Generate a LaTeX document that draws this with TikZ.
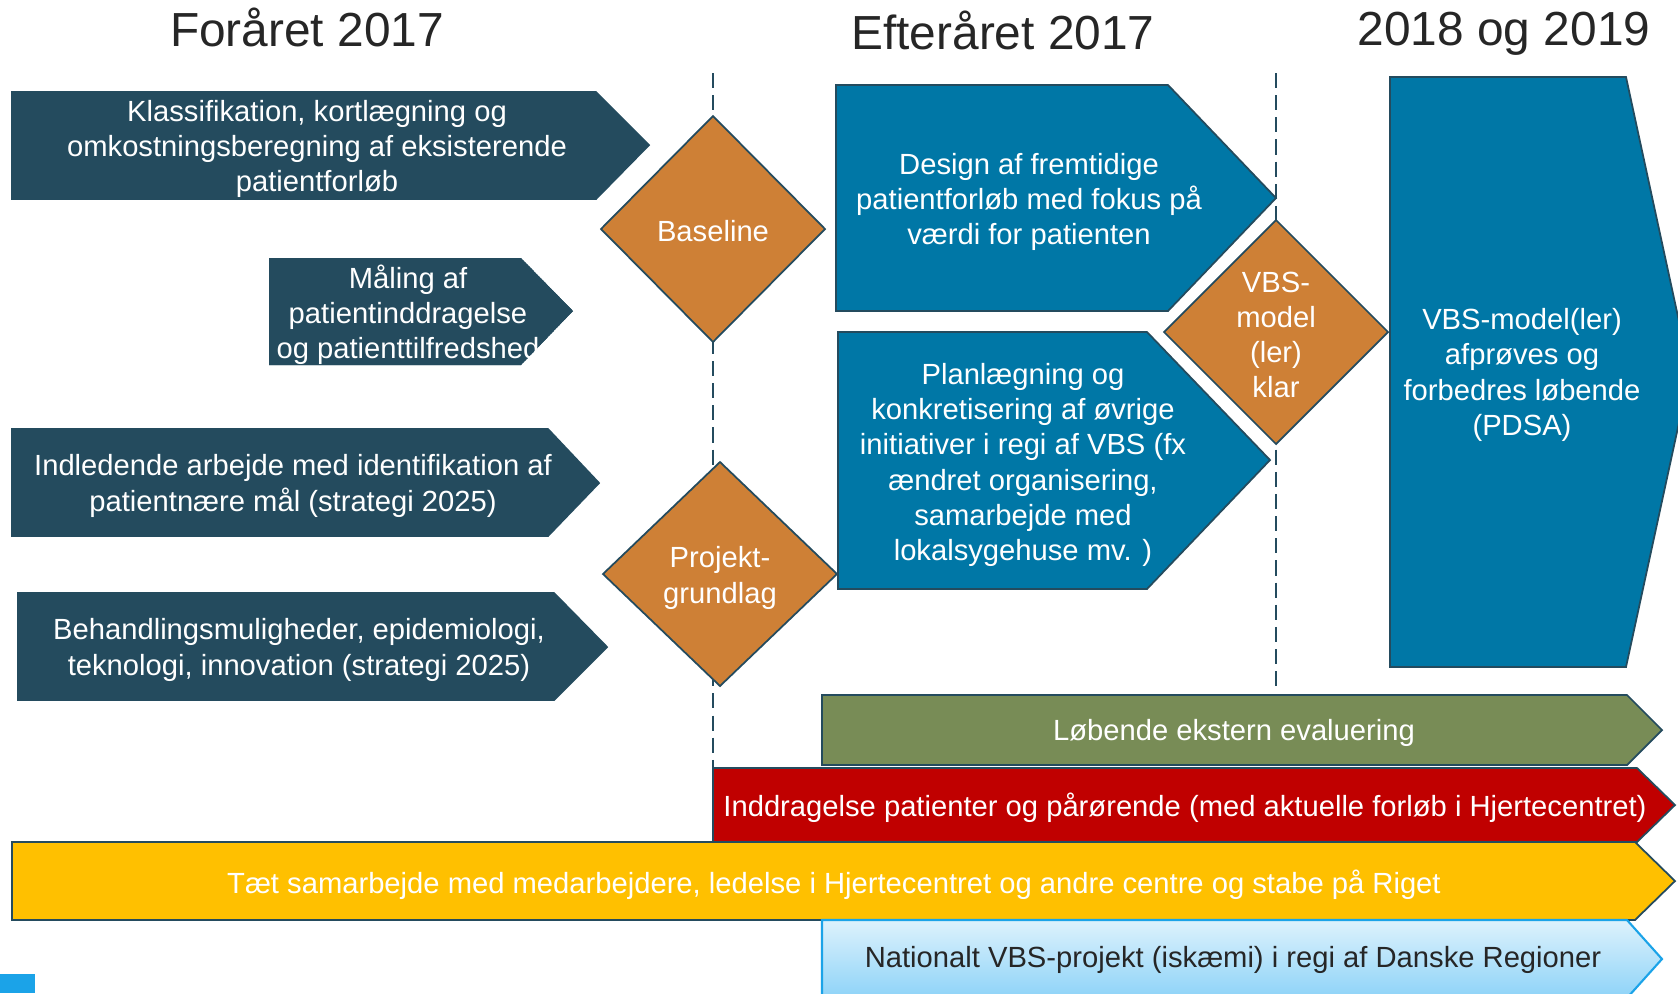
\documentclass[tikz,border=0pt]{standalone}
\usepackage{fontspec}
\setmainfont{Liberation Sans}
\definecolor{slate}{RGB}{36,75,94}
\definecolor{vbsblue}{RGB}{0,119,166}
\definecolor{milestone}{RGB}{206,128,54}
\definecolor{evalgreen}{RGB}{120,140,86}
\definecolor{patred}{RGB}{192,0,0}
\definecolor{teamyellow}{RGB}{255,192,0}
\definecolor{natlight}{RGB}{221,242,252}
\definecolor{natdark}{RGB}{142,211,248}
\definecolor{natedge}{RGB}{27,163,232}

\begin{document}
\begin{tikzpicture}[x=0.01cm,y=-0.01cm,
  box/.style={draw=slate,line width=0.5pt},
  txt/.style={text=white,align=center,inner sep=0pt,font=\fontsize{8.3}{10}\selectfont},
  heading/.style={text=black!85,inner sep=0pt,font=\fontsize{13.6}{16}\selectfont}]
\useasboundingbox (0,0) rectangle (1678,993);
\clip (0,0) rectangle (1678,993);

% headings
\node[heading] (spring) at (307,27) {Foråret 2017};
\node[heading] (autumn) at (1003,30) {Efteråret 2017};
\node[heading] (later) at (1504,34) {2018 og 2019};

% dashed dividers
\foreach \x/\yb in {713/768, 1276/690}
  \draw[slate, line width=0.7pt, dash pattern=on 4.3pt off 2pt] (\x,73) -- (\x,\yb);

% spring 2017
\filldraw[box, fill=slate] (12,92) -- (596,92) -- (649,145) -- (596,199) -- (12,199) -- cycle;
\node[txt] (klass) at (317,149) {Klassifikation, kortlægning og\\omkostningsberegning af eksisterende\\patientforløb};

\begin{scope}
\clip (269,258) -- (521,258) -- (573,311) -- (521,365) -- (269,365) -- cycle;
\filldraw[box, fill=slate] (269,258) -- (521,258) -- (573,311) -- (521,365) -- (269,365) -- cycle;
\node[txt] (maaling) at (408,315) {Måling af\\patientinddragelse\\og patienttilfredshed};
\end{scope}

\filldraw[box, fill=slate] (12,429) -- (548,429) -- (599,483) -- (548,536) -- (12,536) -- cycle;
\node[txt] (indled) at (293,486) {Indledende arbejde med identifikation af\\patientnære mål (strategi 2025)};

\filldraw[box, fill=slate] (18,593) -- (554,593) -- (607,647) -- (554,700) -- (18,700) -- cycle;
\node[txt] (behandl) at (299,650) {Behandlingsmuligheder, epidemiologi,\\teknologi, innovation (strategi 2025)};

% milestones
\filldraw[box, fill=milestone] (713,116) -- (825,229) -- (713,342) -- (601,229) -- cycle;
\node[txt] (baseline) at (713,231) {Baseline};

\filldraw[box, fill=milestone] (720,462) -- (837,574) -- (720,686) -- (603,574) -- cycle;
\node[txt] (projekt) at (720,578) {Projekt-\\grundlag};

\filldraw[box, fill=milestone] (1276,220) -- (1388,332) -- (1276,444) -- (1164,332) -- cycle;
\node[txt] (vbsklar) at (1276,335) {VBS-\\model\\(ler)\\klar};

% autumn 2017
\filldraw[box, fill=vbsblue] (836,85) -- (1168,85) -- (1276,198) -- (1168,311) -- (836,311) -- cycle;
\node[txt] (design) at (1029,202) {Design af fremtidige\\patientforløb med fokus på\\værdi for patienten};

\filldraw[box, fill=vbsblue] (838,332) -- (1147,332) -- (1270,460) -- (1147,589) -- (838,589) -- cycle;
\node[txt] (planl) at (1023,465) {Planlægning og\\konkretisering af øvrige\\initiativer i regi af VBS (fx\\ændret organisering,\\samarbejde med\\lokalsygehuse mv. )};

% 2018 og 2019
\filldraw[box, fill=vbsblue] (1390,77) -- (1626,77) -- (1690,372) -- (1626,667) -- (1390,667) -- cycle;
\node[txt] (afproev) at (1522,375) {VBS-model(ler)\\afprøves og\\forbedres løbende\\(PDSA)};

% running bars
\filldraw[box, fill=evalgreen] (822,695) -- (1627,695) -- (1662,730) -- (1627,765) -- (822,765) -- cycle;
\node[txt] (evaluering) at (1234,733) {Løbende ekstern evaluering};

\filldraw[box, fill=patred] (713,768) -- (1637,768) -- (1675,805) -- (1637,842) -- (713,842) -- cycle;
\node[txt] (inddrag) at (1185,808) {Inddragelse patienter og pårørende (med aktuelle forløb i Hjertecentret)};

\filldraw[box, fill=teamyellow] (12,842) -- (1635,842) -- (1675,881) -- (1635,920) -- (12,920) -- cycle;
\node[txt] (samarbejde) at (834,885) {Tæt samarbejde med medarbejdere, ledelse i Hjertecentret og andre centre og stabe på Riget};

\shade[top color=natlight, bottom color=natdark] (822,920) -- (1627,920) -- (1662,959) -- (1627,998) -- (822,998) -- cycle;
\draw[natedge, line width=0.6pt] (822,920) -- (1627,920) -- (1662,959) -- (1627,998) -- (822,998) -- cycle;
\node[txt, text=black!85] (national) at (1233,960) {Nationalt VBS-projekt (iskæmi) i regi af Danske Regioner};

\fill[natedge] (0,974) rectangle (35,993);
\end{tikzpicture}
\end{document}
